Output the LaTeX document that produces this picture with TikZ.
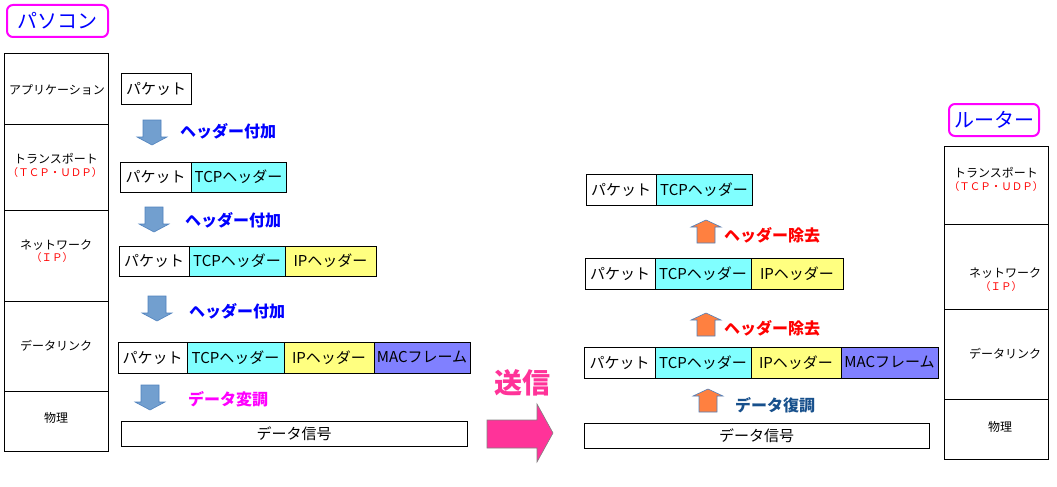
\documentclass[tikz,border=0pt]{standalone}
\usepackage{fontspec}
\setmainfont{Noto Sans CJK JP}
\definecolor{cyanh}{RGB}{128,255,255}
\definecolor{yelh}{RGB}{255,255,128}
\definecolor{purh}{RGB}{128,128,255}
\definecolor{blab}{RGB}{0,0,255}
\definecolor{mag}{RGB}{255,0,255}
\definecolor{pinka}{RGB}{255,51,153}
\definecolor{redl}{RGB}{255,0,0}
\definecolor{arrblue}{RGB}{114,159,207}
\definecolor{arrblueedge}{RGB}{79,129,189}
\definecolor{arrorange}{RGB}{255,128,64}
\definecolor{darkblab}{RGB}{23,80,140}
\begin{document}
\begin{tikzpicture}[x=1pt,y=-1pt,
  cell/.style={draw, line width=0.9pt, anchor=north west, inner sep=0pt, outer sep=0pt,
    font=\fontsize{15}{15}\selectfont, minimum height=31},
  tcp/.style={fill=cyanh},
  iph/.style={fill=yelh},
  mac/.style={fill=purh},
  stackcell/.style={draw, line width=0.9pt, anchor=north west, inner sep=0pt, outer sep=0pt, minimum width=104},
  stacklbl/.style={inner sep=0pt, font=\fontsize{12}{12}\selectfont},
  stackred/.style={inner sep=0pt, text=redl, font=\fontsize{10.5}{10.5}\selectfont},
  tagbox/.style={draw=mag, line width=2pt, rounded corners=6pt, text=blab, inner sep=0pt,
    font=\fontsize{20}{20}\selectfont},
  steplbl/.style={inner sep=0pt, font=\fontsize{16}{16}\selectfont\bfseries},
  dnarrow/.pic={\draw[fill=arrblue, draw=arrblueedge, line width=0.6pt]
     (-9,0) -- (9,0) -- (9,17) -- (15,17) -- (0,25) -- (-15,17) -- (-9,17) -- cycle;},
  uparrow/.pic={\draw[fill=arrorange, draw=arrblueedge, line width=0.6pt]
     (-9,23) -- (9,23) -- (9,7) -- (15,7) -- (0,0) -- (-15,7) -- (-9,7) -- cycle;}
]
\useasboundingbox (0,0) rectangle (1057,487);

% ---------- left: PC ----------
\node[tagbox, minimum width=101, minimum height=32] (pc) at (57.5,21) {パソコン};

\node[stackcell, minimum height=71] (ls1) at (4,53) {};
\node[stackcell, minimum height=86] (ls2) at (ls1.south west) {};
\node[stackcell, minimum height=91] (ls3) at (ls2.south west) {};
\node[stackcell, minimum height=90] (ls4) at (ls3.south west) {};
\node[stackcell, minimum height=60] (ls5) at (ls4.south west) {};
\node[stacklbl] (ls1t) at (57,90) {アプリケーション};
\node[stacklbl] (ls2t) at (56,159) {トランスポート};
\node[stackred] (ls2r) at (55,173) {（ＴＣＰ・ＵＤＰ）};
\node[stacklbl] (ls3t) at (56,245) {ネットワーク};
\node[stackred] (ls3r) at (52,258) {（ＩＰ）};
\node[stacklbl] (ls4t) at (56,346) {データリンク};
\node[stacklbl] (ls5t) at (56,418) {物理};

% rows
\node[cell, minimum width=70] (l1p) at (121,73) {パケット};

\node[cell, minimum width=71, minimum height=30] (l2p) at (120,162) {パケット};
\node[cell, tcp, minimum width=95, minimum height=30] (l2t) at (l2p.north east) {TCPヘッダー};

\node[cell, minimum width=70, minimum height=30] (l3p) at (119,246) {パケット};
\node[cell, tcp, minimum width=96, minimum height=30] (l3t) at (l3p.north east) {TCPヘッダー};
\node[cell, iph, minimum width=91, minimum height=30] (l3i) at (l3t.north east) {IPヘッダー};

\node[cell, minimum width=69] (l4p) at (118,342) {パケット};
\node[cell, tcp, minimum width=97] (l4t) at (l4p.north east) {TCPヘッダー};
\node[cell, iph, minimum width=90] (l4i) at (l4t.north east) {IPヘッダー};
\node[cell, mac, minimum width=96] (l4m) at (l4i.north east) {MACフレーム};

\node[cell, minimum width=346, minimum height=25] (lsig) at (121,421) {データ信号};

% step arrows left
\pic at (152,120) {dnarrow};
\pic at (154,207) {dnarrow};
\pic at (157,296) {dnarrow};
\pic at (150,385) {dnarrow};
\node[steplbl, text=blab] (la1) at (228,131) {ヘッダー付加};
\node[steplbl, text=blab] (la2) at (233,220) {ヘッダー付加};
\node[steplbl, text=blab] (la3) at (237,311) {ヘッダー付加};
\node[steplbl, text=mag] (la4) at (228,399) {データ変調};

% ---------- transmit arrow ----------
\node[inner sep=0pt, text=pinka, font=\fontsize{28}{28}\selectfont\bfseries] (send) at (522,383) {送信};
\draw[fill=pinka, draw=gray, line width=0.6pt]
  (487,420) -- (537,420) -- (537,404) -- (553,433) -- (537,462) -- (537,448) -- (487,448) -- cycle;

% ---------- right: router ----------
\node[tagbox, minimum width=90, minimum height=32] (rt) at (994,120) {ルーター};

\node[stackcell, minimum height=78] (rs1) at (944,146) {};
\node[stackcell, minimum height=85] (rs2) at (rs1.south west) {};
\node[stackcell, minimum height=90] (rs3) at (rs2.south west) {};
\node[stackcell, minimum height=60] (rs4) at (rs3.south west) {};
\node[stacklbl] (rs1t) at (996,173) {トランスポート};
\node[stackred] (rs1r) at (996,187) {（ＴＣＰ・ＵＤＰ）};
\node[stacklbl] (rs2t) at (1005,273) {ネットワーク};
\node[stackred] (rs2r) at (1001,287) {（ＩＰ）};
\node[stacklbl] (rs3t) at (1005,354) {データリンク};
\node[stacklbl] (rs4t) at (1000,427) {物理};

\node[cell, minimum width=70] (r1p) at (586,174) {パケット};
\node[cell, tcp, minimum width=96] (r1t) at (r1p.north east) {TCPヘッダー};

\node[cell, minimum width=70] (r2p) at (585,258) {パケット};
\node[cell, tcp, minimum width=96] (r2t) at (r2p.north east) {TCPヘッダー};
\node[cell, iph, minimum width=92] (r2i) at (r2t.north east) {IPヘッダー};

\node[cell, minimum width=71] (r3p) at (584,347) {パケット};
\node[cell, tcp, minimum width=96] (r3t) at (r3p.north east) {TCPヘッダー};
\node[cell, iph, minimum width=90] (r3i) at (r3t.north east) {IPヘッダー};
\node[cell, mac, minimum width=97] (r3m) at (r3i.north east) {MACフレーム};

\node[cell, minimum width=345, minimum height=25] (rsig) at (584,423) {データ信号};

\pic at (706,220) {uparrow};
\pic at (706,313) {uparrow};
\pic at (708,389) {uparrow};
\node[steplbl, text=redl] (ra1) at (772,235) {ヘッダー除去};
\node[steplbl, text=redl] (ra2) at (772,328) {ヘッダー除去};
\node[steplbl, text=darkblab] (ra3) at (775,405) {データ復調};
\end{tikzpicture}
\end{document}
